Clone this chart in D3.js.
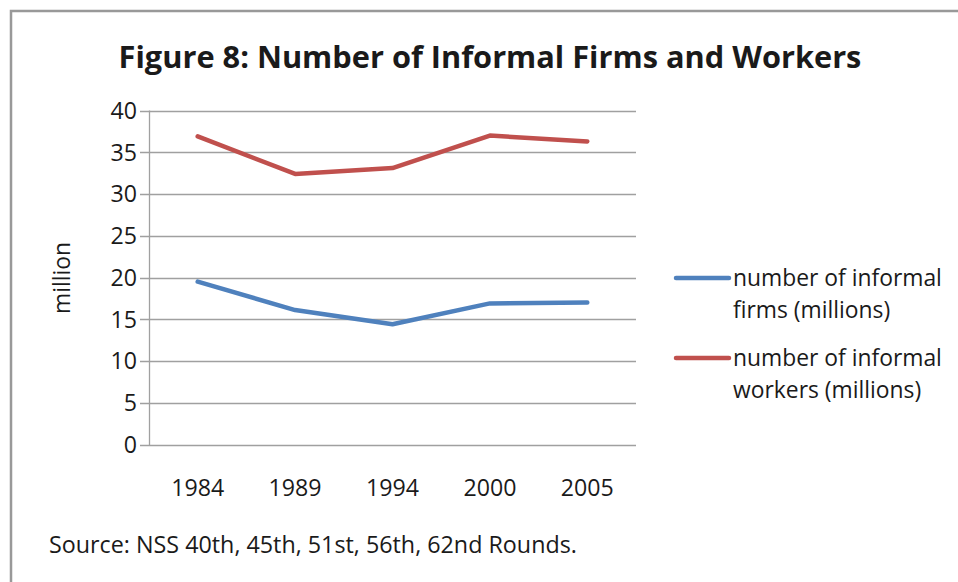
<!DOCTYPE html>
<html><head><meta charset="utf-8">
<script src="https://cdn.jsdelivr.net/npm/d3@7"></script>
<style>
body{margin:0;background:#fff;}
text{font-family:"Open Sans",sans-serif;fill:#1a1a1a;}
</style></head>
<body><svg id="c" width="958" height="582"></svg>
<script>
const categories = ["1984","1989","1994","2000","2005"];
const firms = [19.5, 16.1, 14.4, 16.9, 17.0];
const workers = [36.9, 32.4, 33.1, 37.0, 36.3];
const yTicks = [0,5,10,15,20,25,30,35,40];
const legendLines = [["number of informal","firms (millions)"],["number of informal","workers (millions)"]];
const colors = ["#4F81BD","#C0504D"];

const svg = d3.select("#c");
// fit a group's font size so that a reference text spans a target width
function fit(sel, refNode, target){
  const w = refNode.getComputedTextLength();
  const fs = parseFloat(refNode.getAttribute("font-size"));
  sel.attr("font-size", fs*target/w);
}

svg.append("path").attr("d","M11,582V11H958").attr("fill","none").attr("stroke","#999").attr("stroke-width",2.5);

const x = d3.scaleBand().domain(categories).range([149,636]);
const y = d3.scaleLinear().domain([0,40]).range([444.5,110.5]);

svg.append("g").selectAll("line").data(yTicks).join("line")
  .attr("x1",140).attr("x2",636).attr("y1",d=>Math.round(y(d))+0.5).attr("y2",d=>Math.round(y(d))+0.5)
  .attr("stroke","#a0a0a0").attr("stroke-width",1.3);
svg.append("line").attr("x1",149.5).attr("x2",149.5).attr("y1",y(40)).attr("y2",y(0)+1)
  .attr("stroke","#a0a0a0").attr("stroke-width",1.3);

const yl = svg.append("g").selectAll("text").data(yTicks).join("text")
  .attr("x",137).attr("y",d=>y(d)).attr("dy","0.36em").attr("text-anchor","end")
  .attr("font-size",20).text(d=>d);

const xl = svg.append("g").selectAll("text").data(categories).join("text")
  .attr("x",d=>x(d)+x.bandwidth()/2).attr("y",496).attr("text-anchor","middle")
  .attr("font-size",20).text(d=>d);
fit(xl, xl.nodes()[0], 53);
yl.attr("font-size", xl.attr("font-size"));

const yt = svg.append("text").attr("transform","translate(70,278) rotate(-90)").attr("text-anchor","middle")
  .attr("font-size",20).text("million");
fit(yt, yt.node(), 72);

const line = d3.line().x((d,i)=>x(categories[i])+x.bandwidth()/2).y(d=>y(d));
[firms,workers].forEach((s,k)=>{
  svg.append("path").attr("d",line(s)).attr("fill","none").attr("stroke",colors[k])
    .attr("stroke-width",4.5).attr("stroke-linecap","round").attr("stroke-linejoin","round");
});

const legY = [278, 358];
const legTexts = [];
legendLines.forEach((ls,k)=>{
  svg.append("line").attr("x1",676).attr("x2",729).attr("y1",legY[k]).attr("y2",legY[k])
    .attr("stroke",colors[k]).attr("stroke-width",4.5).attr("stroke-linecap","round");
  ls.forEach((t,j)=>{
    legTexts.push(svg.append("text").attr("x",733).attr("y",legY[k]+j*32).attr("dy","0.36em")
      .attr("font-size",20).text(t).node());
  });
});
fit(d3.selectAll(legTexts), legTexts[0], 209);

const title = svg.append("text").attr("x",490).attr("y",68).attr("text-anchor","middle")
  .attr("font-size",30).attr("font-weight","bold").text("Figure 8: Number of Informal Firms and Workers");
fit(title, title.node(), 743);

const src = svg.append("text").attr("x",49).attr("y",553).attr("font-size",19)
  .text("Source: NSS 40th, 45th, 51st, 56th, 62nd Rounds.");
fit(src, src.node(), 528);
</script></body></html>
